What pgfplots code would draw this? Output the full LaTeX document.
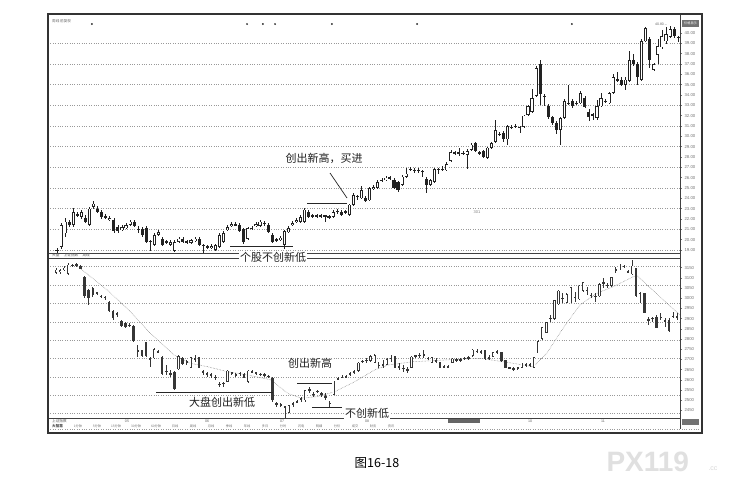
\documentclass[border=0pt]{standalone}
\usepackage{fontspec}
\setmainfont{Liberation Sans}
\newfontfamily\cjk{Noto Sans CJK SC}
\usepackage{pgfplots}
\usepackage{pgfplotstable}
\pgfplotsset{compat=1.18}
\definecolor{candle}{HTML}{222222}
\definecolor{lcandle}{HTML}{363636}

\pgfplotstableread{
i o h l c
0 19.0 19.2 18.7 19.0
1 19.3 21.6 19.1 21.4
2 20.6 22.1 20.3 21.75
3 21.75 21.9 21.2 21.4
4 21.4 23.1 21.2 22.7
5 22.4 22.7 22.2 22.45
6 22.2 22.9 22.0 22.7
7 22.1 22.4 21.6 21.75
8 21.4 23.2 21.3 23.0
9 23.2 23.7 23.0 23.5
10 23.0 23.3 22.6 22.7
11 22.7 22.9 22.0 22.2
12 22.2 22.5 22.0 22.25
13 21.9 22.3 21.8 22.1
14 21.9 22.1 20.6 20.8
15 21.2 21.4 20.6 20.8
16 20.9 21.4 20.8 21.2
17 21.1 21.6 21.0 21.4
18 21.4 21.9 21.3 21.75
19 21.75 21.9 21.2 21.3
20 21.0 21.3 20.6 21.0
21 21.0 21.2 20.3 20.5
22 21.1 21.3 19.7 19.8
23 19.8 20.0 18.9 19.9
24 19.5 20.6 19.4 20.45
25 20.5 20.9 20.4 20.7
26 20.1 20.3 19.4 19.5
27 19.8 20.0 19.6 19.8
28 19.5 20.0 19.4 19.8
29 18.9 20.0 18.8 19.8
30 19.8 20.3 19.7 20.1
31 20.1 20.3 19.7 19.8
32 19.8 20.0 19.6 19.8
33 19.7 20.1 19.6 19.95
34 19.9 20.3 19.8 20.1
35 20.1 20.3 19.4 19.5
36 19.4 19.6 18.7 19.5
37 19.3 19.5 19.1 19.3
38 19.2 19.6 19.1 19.4
39 19.0 19.6 18.9 19.5
40 19.3 20.6 19.2 20.45
41 19.8 20.8 19.7 20.6
42 20.9 21.4 20.8 21.2
43 21.3 21.7 21.2 21.5
44 21.4 21.7 21.3 21.5
45 21.4 21.6 20.7 20.8
46 21.0 21.1 19.6 19.8
47 20.1 21.2 20.0 21.1
48 21.1 21.3 20.9 21.1
49 21.3 21.7 21.2 21.5
50 21.3 21.9 21.2 21.75
51 21.6 21.8 21.3 21.6
52 21.4 21.6 20.6 20.7
53 20.5 20.6 19.7 19.8
54 20.0 20.2 19.8 20.0
55 20.0 20.4 19.9 20.2
56 19.5 20.9 19.1 20.8
57 20.7 21.3 20.6 21.1
58 21.4 21.8 21.3 21.6
59 21.7 22.1 21.6 21.9
60 21.75 22.4 21.6 22.2
61 21.75 23.1 21.6 22.9
62 22.7 22.9 22.1 22.2
63 22.3 22.5 22.1 22.3
64 22.3 22.5 22.1 22.35
65 22.3 22.5 22.1 22.3
66 22.3 22.4 21.75 22.3
67 22.2 22.4 22.0 22.2
68 22.2 22.9 22.1 22.7
69 22.75 23.0 22.5 22.75
70 22.7 22.9 22.3 22.4
71 22.7 22.9 22.5 22.7
72 22.4 23.5 22.3 23.4
73 23.4 24.5 23.3 24.3
74 24.2 24.3 23.8 24.2
75 24.0 25.2 23.9 24.8
76 24.0 24.2 23.6 23.7
77 23.8 25.1 23.7 25.0
78 24.9 25.3 24.8 25.1
79 25.0 25.8 24.9 25.6
80 25.7 26.0 25.6 25.8
81 25.8 26.2 25.7 26.0
82 26.0 26.2 25.8 26.0
83 25.8 26.0 24.9 25.0
84 25.6 25.7 24.6 24.8
85 25.3 26.3 25.2 26.1
86 26.1 26.9 26.0 26.4
87 26.8 27.0 26.6 26.8
88 26.7 26.9 26.5 26.7
89 26.7 26.9 26.5 26.7
90 26.6 26.7 26.1 26.6
91 25.9 26.1 24.5 25.3
92 25.3 25.9 25.2 25.8
93 25.6 26.9 25.5 26.8
94 26.8 26.9 26.4 26.8
95 26.8 27.1 26.6 26.85
96 26.7 27.5 26.6 27.3
97 27.6 28.7 27.5 28.5
98 28.4 28.6 28.2 28.4
99 28.4 28.9 28.1 28.4
100 28.3 28.6 28.2 28.4
101 28.2 28.8 26.8 28.6
102 28.7 29.4 28.6 29.2
103 29.35 29.5 28.5 28.6
104 28.4 28.6 28.2 28.4
105 28.6 28.7 27.9 28.0
106 27.9 29.0 27.8 28.9
107 28.9 29.5 28.8 29.35
108 29.5 31.6 29.4 30.6
109 30.2 30.4 30.0 30.2
110 30.3 30.5 29.5 29.7
111 29.7 31.1 29.2 31.0
112 30.9 31.1 30.7 30.9
113 31.0 31.2 30.8 31.0
114 30.9 31.0 30.3 30.9
115 30.9 32.1 30.8 32.0
116 32.1 33.0 32.0 32.9
117 32.4 34.6 32.3 33.7
118 33.9 36.8 33.8 36.6
119 36.96 37.4 33.0 34.05
120 33.9 34.1 32.9 33.9
121 32.9 33.1 31.7 31.85
122 31.9 32.0 31.1 31.3
123 31.3 31.5 30.2 30.6
124 30.6 31.9 29.2 31.8
125 31.8 33.6 31.7 33.4
126 33.2 35.0 33.0 33.2
127 33.4 33.6 32.7 32.9
128 33.2 33.4 33.0 33.2
129 33.2 34.4 33.1 34.2
130 33.7 33.9 32.7 32.8
131 32.4 32.6 31.5 31.85
132 32.1 32.3 31.6 32.1
133 31.8 33.5 31.6 32.9
134 32.9 34.2 32.8 33.7
135 33.4 33.6 33.2 33.4
136 33.2 34.3 33.1 34.2
137 34.2 36.0 34.1 35.7
138 35.5 36.2 35.3 35.5
139 35.5 35.7 34.9 35.0
140 35.0 35.7 34.5 35.5
141 35.4 38.3 35.3 37.4
142 37.4 38.0 36.8 36.96
143 36.96 37.2 35.0 35.7
144 35.5 39.4 35.4 39.2
145 39.2 40.6 39.1 40.5
146 39.4 39.6 36.6 37.4
147 36.4 37.1 36.3 36.96
148 37.9 39.4 37.0 38.7
149 38.6 40.3 38.5 39.7
150 39.2 40.6 38.9 39.9
151 39.6 40.7 39.5 40.4
152 40.4 40.6 39.5 39.7
153 39.6 39.7 39.1 39.6
}\stocktab

\pgfplotstableread{
i o h l c
0 3125 3147 3119 3140
1 3130 3142 3119 3138
2 3140 3158 3135 3150
3 3120 3171 3114 3165
4 3162 3168 3155 3163
5 3165 3171 3155 3166
6 3160 3163 3142 3145
7 3105 3108 3000 3010
8 3040 3045 2967 3000
9 3049 3055 3008 3016
10 3028 3033 3016 3026
11 3012 3016 3000 3010
12 3005 3010 2992 3003
13 2980 2985 2935 2940
14 2940 2945 2894 2905
15 2925 2935 2910 2922
16 2890 2894 2861 2865
17 2880 2885 2853 2858
18 2870 2877 2861 2868
19 2865 2869 2787 2792
20 2745 2771 2714 2742
21 2745 2747 2714 2718
22 2785 2787 2714 2718
23 2705 2714 2665 2703
24 2706 2755 2703 2750
25 2740 2747 2730 2738
26 2714 2718 2624 2630
27 2645 2673 2624 2640
28 2630 2649 2616 2628
29 2640 2645 2551 2555
30 2652 2722 2649 2718
31 2705 2710 2673 2678
32 2690 2698 2673 2688
33 2660 2714 2657 2710
34 2705 2722 2689 2702
35 2712 2714 2657 2660
36 2640 2649 2624 2638
37 2632 2640 2616 2630
38 2625 2632 2608 2623
39 2615 2624 2600 2613
40 2580 2591 2567 2578
41 2582 2591 2567 2585
42 2592 2649 2588 2645
43 2635 2640 2624 2633
44 2625 2632 2616 2623
45 2632 2640 2619 2634
46 2630 2632 2608 2610
47 2590 2649 2583 2645
48 2642 2649 2632 2640
49 2635 2640 2624 2633
50 2628 2632 2619 2626
51 2625 2632 2616 2623
52 2618 2624 2608 2616
53 2608 2612 2493 2502
54 2485 2493 2469 2483
55 2478 2485 2469 2476
56 2470 2472 2412 2468
57 2440 2477 2436 2475
58 2482 2493 2469 2484
59 2492 2502 2485 2494
60 2505 2518 2493 2508
61 2500 2551 2493 2548
62 2552 2567 2534 2550
63 2530 2542 2518 2528
64 2542 2551 2534 2544
65 2530 2542 2518 2532
66 2520 2534 2500 2515
67 2485 2495 2469 2488
68 2528 2595 2526 2592
69 2605 2616 2600 2608
70 2612 2624 2608 2614
71 2615 2624 2608 2617
72 2628 2640 2619 2630
73 2638 2649 2630 2640
74 2645 2689 2640 2685
75 2690 2698 2681 2692
76 2695 2706 2681 2697
77 2692 2722 2689 2718
78 2685 2727 2681 2722
79 2672 2689 2657 2670
80 2675 2698 2657 2673
81 2675 2706 2673 2700
82 2705 2722 2689 2707
83 2715 2717 2657 2660
84 2665 2681 2649 2663
85 2658 2673 2640 2656
86 2650 2665 2632 2648
87 2660 2717 2657 2714
88 2716 2722 2706 2718
89 2720 2730 2706 2722
90 2725 2747 2706 2723
91 2708 2714 2698 2706
92 2685 2714 2681 2712
93 2695 2706 2681 2693
94 2688 2689 2657 2660
95 2665 2673 2657 2663
96 2664 2673 2657 2666
97 2683 2706 2681 2704
98 2697 2706 2689 2699
99 2698 2706 2689 2700
100 2704 2714 2695 2706
101 2708 2717 2698 2710
102 2716 2750 2714 2748
103 2740 2750 2730 2742
104 2738 2747 2727 2736
105 2745 2747 2698 2700
106 2708 2722 2698 2710
107 2712 2738 2711 2736
108 2738 2747 2727 2740
109 2736 2738 2689 2692
110 2695 2698 2657 2660
111 2660 2665 2652 2658
112 2656 2662 2645 2654
113 2658 2665 2649 2660
114 2660 2681 2657 2680
115 2673 2681 2662 2675
116 2672 2681 2662 2674
117 2660 2714 2657 2712
118 2730 2796 2730 2790
119 2800 2861 2796 2858
120 2830 2886 2828 2882
121 2900 2918 2886 2902
122 2898 2992 2894 2990
123 2970 3041 2967 3038
124 3000 3024 2975 3002
125 2978 3024 2975 3020
126 2980 3057 2975 3055
127 3005 3033 2983 3003
128 2995 3065 2992 3062
129 3035 3082 3033 3078
130 3040 3057 3016 3038
131 3015 3024 3000 3013
132 3010 3024 2983 3012
133 3010 3073 3008 3070
134 3075 3098 3049 3077
135 3065 3073 3049 3063
136 3060 3106 3057 3102
137 3140 3155 3122 3142
138 3142 3168 3139 3165
139 3156 3163 3147 3158
140 3132 3139 3122 3130
141 3118 3188 3114 3160
142 3147 3150 3008 3010
143 3025 3033 2975 3023
144 3024 3026 2926 2928
145 2895 2910 2869 2893
146 2900 2910 2885 2902
147 2910 2918 2853 2856
148 2905 2926 2894 2907
149 2890 2902 2861 2888
150 2895 2902 2836 2840
151 2912 2935 2902 2914
152 2910 2926 2894 2908
}\indextab

\pgfplotsset{
  panel/.style={
    scale only axis, width=632pt,
    axis line style={draw=black!75, line width=0.5pt},
    xtick=\empty,
    ytick pos=right, yticklabel pos=right,
    tick align=outside, major tick length=2pt,
    every tick/.style={black!55, line width=0.4pt},
    yticklabel style={font=\fontsize{4.3}{5}\selectfont, text=black!55, xshift=-1pt},
    extra y tick labels={},
    extra y tick style={grid=major, major tick length=0pt},
    grid style={dotted, black!40, line width=0.45pt},
  },
  wick/.style={draw=none, mark=none, error bars/.cd, y dir=both, y explicit,
    error mark=none, error bar style={draw=#1, line width=0.6pt, line cap=butt}},
  body/.style 2 args={draw=none, mark=none, error bars/.cd, y dir=both, y explicit,
    error mark=none, error bar style={draw=#1, line width=#2, line cap=butt}},
}

\begin{document}
\begin{tikzpicture}
\useasboundingbox (0,0) rectangle (733pt,-483pt);
\fill[white] (0,0) rectangle (733pt,-483pt);

% upper panel: the stock
\begin{axis}[panel, at={(48pt,-253pt)}, anchor=south west, height=239pt,
  xmin=-2.22, xmax=153.45, ymin=18.71, ymax=41.84,
  ytick={19,20,...,40},
  yticklabel style={/pgf/number format/.cd, fixed, fixed zerofill, precision=2, assume math mode=true},
  extra y ticks={19,21,...,39}]
\addplot[wick=candle] table[x=i, y expr={(\thisrow{h}+\thisrow{l})/2}, y error expr={(\thisrow{h}-\thisrow{l})/2}] {\stocktab};
\addplot[body={candle}{3.1pt}] table[x=i, y expr={(\thisrow{o}+\thisrow{c})/2}, y error expr={max(abs(\thisrow{c}-\thisrow{o})/2,0.045)}] {\stocktab};
\addplot[body={white}{1.5pt}] table[x=i, y expr={(\thisrow{o}+\thisrow{c})/2}, y error expr={(\thisrow{c}>\thisrow{o})*max((\thisrow{c}-\thisrow{o})/2-0.075,0)}] {\stocktab};
\addplot[only marks, mark=*, mark size=0.7pt, black!80] coordinates {(8.6,40.87) (46.8,40.87) (50.7,40.87) (53.7,40.87) (67.7,40.87) (88.7,40.87) (126.8,40.87)};
\end{axis}

% lower panel: the market index
\begin{axis}[panel, at={(48pt,-418pt)}, anchor=south west, height=160pt,
  xmin=-1.96, xmax=152.72, ymin=2413, ymax=3197.5,
  ytick={2450,2500,...,3150},
  yticklabel style={/pgf/number format/.cd, 1000 sep={}, assume math mode=true},
  extra y ticks={2438,2526,2614,2707,2796,2884,2977,3066,3158}]
\addplot[black!55, line width=0.5pt, densely dotted] coordinates {(5.9,3147) (12.5,3041) (17.4,2951) (23.1,2828) (28.9,2722) (33,2681) (37,2665) (42,2640) (46.9,2624) (52.6,2600) (56.7,2534) (60,2510) (64,2518) (68.2,2542) (73.1,2591) (78,2649) (81.3,2673) (87.4,2689) (95.6,2698) (103.8,2706) (111.9,2681) (116.8,2665) (120.1,2730) (124.1,2853) (128.2,2967) (132.3,3024) (136.4,3057) (142.1,3114) (148.6,2992) (152.7,2918)};
\addplot[wick=lcandle] table[x=i, y expr={(\thisrow{h}+\thisrow{l})/2}, y error expr={(\thisrow{h}-\thisrow{l})/2}] {\indextab};
\addplot[body={lcandle}{2.4pt}] table[x=i, y expr={(\thisrow{o}+\thisrow{c})/2}, y error expr={max(abs(\thisrow{c}-\thisrow{o})/2,2.5)}] {\indextab};
\addplot[body={white}{1.0pt}] table[x=i, y expr={(\thisrow{o}+\thisrow{c})/2}, y error expr={(\thisrow{c}>\thisrow{o})*max((\thisrow{c}-\thisrow{o})/2-3.5,0)}] {\indextab};
\end{axis}

% frame and separators
\draw[black!75, line width=0.5pt] (680pt,-14pt) -- (680pt,-429pt);
\draw[black!40, line width=0.4pt, dotted] (48pt,-429pt) -- (702pt,-429pt);
\draw[black!80, line width=1.4pt] (48pt,-14pt) rectangle (702pt,-433pt);

% small interface texts
\node[anchor=west, font=\cjk\fontsize{3.6}{4}\selectfont, text=black!60, inner sep=0] at (52pt,-21.5pt) {周线 前复权};
\fill[black!55] (682pt,-20pt) rectangle (699pt,-27pt);
\node[font=\cjk\fontsize{3.2}{4}\selectfont, text=white, inner sep=0] at (690.5pt,-23.5pt) {价格显示};
\node[font=\fontsize{3.5}{4}\selectfont, text=black!60, inner sep=0] at (661pt,-24pt) {40.80 --};
\node[font=\fontsize{4}{4}\selectfont, text=black!50, inner sep=0] at (477pt,-212pt) {301};
\node[anchor=west, font=\cjk\fontsize{3.6}{4}\selectfont, text=black!65, inner sep=0] at (52pt,-255.5pt) {大盘 \quad 上证指数 \quad 周线};
\node[anchor=west, font=\cjk\fontsize{3.6}{4}\selectfont, text=black!65, inner sep=0] at (52pt,-421pt) {上证指数};
\foreach \x/\t in {127/05, 207/06, 282/07, 367/08, 530/10, 603/11}
  \node[font=\fontsize{3.6}{4}\selectfont, text=black!60, inner sep=0] at (\x pt,-421pt) {\t};
\node[anchor=west, font=\cjk\fontsize{3.6}{4}\selectfont, text=black!70, inner sep=0] at (52pt,-426pt) {\bfseries 大智慧};
\foreach \x/\t in {78/1分钟, 97/5分钟, 116/15分钟, 136/30分钟, 156/60分钟, 175/日线, 193/周线, 211/月线, 229/季线, 247/年线, 265/多日, 283/分时, 301/闪电, 319/明细, 337/分价, 355/成交, 373/财务, 391/资讯}
  \node[font=\cjk\fontsize{3.2}{4}\selectfont, text=black!55, inner sep=0] at (\x pt,-426pt) {\t};
\fill[black!60] (448pt,-419pt) rectangle (480pt,-423pt);
\fill[black!55] (682pt,-419pt) rectangle (699pt,-425pt);

% annotations, upper panel
\node[font=\cjk\fontsize{11}{11}\selectfont, text=black!88] at (324pt,-158pt) {创出新高，买进};
\draw[black!85, line width=0.7pt] (330pt,-173pt) -- (347pt,-198pt);
\draw[black!85, line width=0.7pt] (307pt,-203pt) -- (347pt,-203pt);
\draw[black!85, line width=0.7pt] (230pt,-246pt) -- (293pt,-246pt);
\node[font=\cjk\fontsize{11}{11}\selectfont, text=black!88, fill=white, inner sep=0.6pt] at (273pt,-257pt) {个股不创新低};

% annotations, lower panel
\node[font=\cjk\fontsize{11}{11}\selectfont, text=black!88] at (310pt,-363pt) {创出新高};
\draw[black!85, line width=0.7pt] (297pt,-383pt) -- (332pt,-383pt);
\draw[black!85, line width=0.7pt] (156pt,-392pt) -- (273pt,-392pt);
\node[font=\cjk\fontsize{11}{11}\selectfont, text=black!88] at (222pt,-402pt) {大盘创出新低};
\draw[black!85, line width=0.7pt] (312pt,-407pt) -- (342pt,-407pt);
\node[font=\cjk\fontsize{11}{11}\selectfont, text=black!88, fill=white, inner sep=0.6pt] at (367pt,-413pt) {不创新低};

% caption and watermark
\node[font=\cjk\fontsize{12.5}{12.5}\selectfont, text=black] at (377pt,-463pt) {图16-18};
\node[font=\bfseries\fontsize{28}{28}\selectfont, text=black!12, anchor=west] at (603pt,-462pt) {PX119};
\node[font=\fontsize{7}{7}\selectfont, text=black!15, anchor=west] at (705pt,-469pt) {.cc};
\end{tikzpicture}
\end{document}
